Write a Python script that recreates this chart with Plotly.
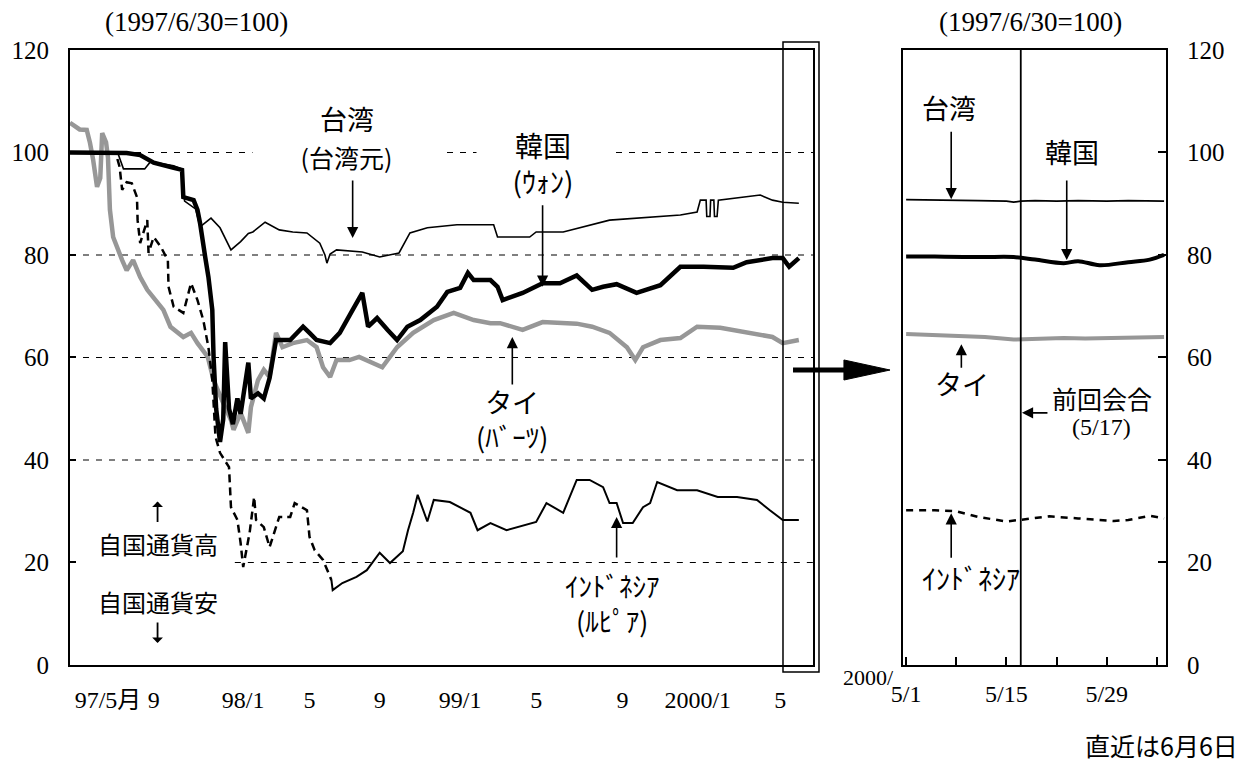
import plotly.graph_objects as go

# ---------------- data (left panel, 1997/6/30 = 100) ----------------
KR_DATES = ["1997-05-01","1997-07-17","1997-07-28","1997-08-18","1997-09-08","1997-10-09","1997-10-22","1997-10-24",
            "1997-11-09","1997-11-15","1997-11-19","1997-11-27","1997-12-02","1997-12-08","1997-12-10","1997-12-14",
            "1997-12-20","1997-12-25","1997-12-28","1998-01-03","1998-01-09","1998-01-16","1998-01-21","1998-02-02",
            "1998-02-06","1998-02-17","1998-02-26","1998-03-07","1998-03-17","1998-04-08","1998-04-28","1998-05-08",
            "1998-05-19","1998-06-09","1998-06-24","1998-07-14","1998-07-29","1998-08-07","1998-08-21","1998-09-06",
            "1998-09-21","1998-10-07","1998-10-27","1998-11-22","1998-12-08","1998-12-28","1999-01-09","1999-01-18",
            "1999-02-13","1999-02-24","1999-03-04","1999-04-04","1999-05-05","1999-06-01","1999-06-27","1999-07-21",
            "1999-08-07","1999-08-28","1999-09-28","1999-11-04","1999-12-05","2000-01-10","2000-02-25","2000-03-17",
            "2000-04-26","2000-05-12","2000-05-22","2000-06-06"]
KR_VALUES = [100,100,99.9,99.5,98,97,96.6,91.3,90.7,88.8,86.2,79.6,75.7,69.3,60,50,43.5,48,63,
             50,47,52,49,59,52,53,52,56,63.4,63.4,66,64.8,63.4,62.8,64.8,69.3,72.6,66,67.7,65.4,63.4,66,67.3,69.9,72.8,73.6,
             76.5,75.1,75.1,73.8,71.2,72.6,74.5,74.5,76,73.2,73.8,74.3,72.6,74.1,77.7,
             77.7,77.5,78.6,79.4,79.4,77.7,79.4]

TW_DATES = ["1997-05-01","1997-07-14","1997-07-23","1997-08-25","1997-09-03","1997-10-09","1997-10-21","1997-10-26",
            "1997-11-12","1997-11-19","1997-12-06","1997-12-20","1998-01-06","1998-01-21","1998-02-02","1998-02-09",
            "1998-02-28","1998-03-22","1998-04-12","1998-05-04","1998-05-24","1998-06-01","1998-06-04","1998-06-09",
            "1998-06-19","1998-07-29","1998-08-25","1998-09-24","1998-10-11","1998-11-07","1998-12-23","1999-02-18",
            "1999-02-24","1999-04-15","1999-04-25","1999-06-06","1999-08-17","1999-12-05","1999-12-31","2000-01-05",
            "2000-01-14","2000-01-15","2000-01-20","2000-01-21","2000-01-26","2000-01-27","2000-01-31","2000-02-02",
            "2000-04-07","2000-04-26","2000-05-12","2000-06-06"]
TW_VALUES = [100,100,96.8,96.8,98.2,97.4,96.8,90.5,89,85.5,87.2,85.3,
             81,82.6,84.2,84.5,86.4,84.9,84.5,84.3,82.3,80,78.4,80.2,81,80.6,79.6,80.4,84.3,85.3,85.9,
             85.9,83.5,83.5,84.5,84.5,86.8,87.8,88.4,
             90.7,90.7,87.5,87.5,90.7,90.7,87.5,87.5,90.7,91.7,90.7,90.3,90.1]

TH_DATES = ["1997-05-01","1997-05-16","1997-05-27","1997-06-01","1997-06-06","1997-06-12","1997-06-17","1997-06-20",
            "1997-06-26","1997-06-29","1997-07-02","1997-07-07","1997-07-21","1997-07-28","1997-08-07","1997-08-18",
            "1997-08-29","1997-09-14","1997-09-23","1997-10-04","1997-10-24","1997-11-05","1997-11-15","1997-12-01",
            "1997-12-10","1997-12-25","1998-01-06","1998-01-10","1998-01-21","1998-02-02","1998-02-06","1998-02-17",
            "1998-02-26","1998-03-07","1998-03-17","1998-03-27","1998-04-12","1998-05-04","1998-05-19","1998-05-29",
            "1998-06-09","1998-06-19","1998-07-09","1998-07-24","1998-08-14","1998-08-29","1998-09-21","1998-10-16",
            "1998-11-17","1998-12-18","1999-01-18","1999-02-13","1999-02-28","1999-04-04","1999-05-05","1999-06-27",
            "1999-07-21","1999-08-17","1999-09-13","1999-09-26","1999-10-08","1999-11-04","1999-12-05","1999-12-31",
            "2000-02-05","2000-03-17","2000-04-26","2000-05-12","2000-06-06"]
TH_VALUES = [105.8,104.5,104.4,101.9,98.5,93.3,95,103.8,102,99,88.8,83.5,79,77,79,75.7,73.2,70.6,69.3,66,64,64.8,62.8,60.1,55.6,51.1,
             47.8,45.9,49.2,45.3,50.3,55.6,57.6,56.2,64.8,62,62.8,63.4,62,58.1,56.2,59.5,59.5,60.1,58.9,58.1,62,64.8,67.3,68.7,
             67.3,66.7,66.7,65.4,66.9,66.6,66,64.8,62,59.5,62,63.4,63.8,66,
             65.8,65,64,62.8,63.4]

ID_DATES = ["1997-05-01","1997-07-10","1997-07-13","1997-07-17","1997-07-21","1997-07-28","1997-08-05","1997-08-13",
            "1997-08-14","1997-08-18","1997-08-29","1997-08-31","1997-09-08","1997-09-19","1997-09-30","1997-10-01",
            "1997-10-09","1997-10-24","1997-11-05","1997-11-15","1997-11-24","1997-12-02","1997-12-08","1997-12-13",
            "1997-12-20","1998-01-03","1998-01-06","1998-01-16","1998-01-21","1998-01-25","1998-02-04","1998-02-11",
            "1998-02-14","1998-02-26","1998-03-07","1998-03-22","1998-04-08","1998-04-15","1998-05-04","1998-05-08",
            "1998-05-16","1998-05-29","1998-06-11","1998-06-13","1998-06-28","1998-07-20","1998-08-05","1998-08-25",
            "1998-09-10","1998-09-30","1998-10-08","1998-10-16","1998-10-23","1998-11-07","1998-11-17","1998-12-12",
            "1999-01-13","1999-01-24","1999-02-13","1999-03-10","1999-04-25","1999-05-11","1999-06-06","1999-06-27",
            "1999-07-17","1999-08-07","1999-08-17","1999-08-28","1999-09-07","1999-09-22","1999-10-08","1999-10-19",
            "1999-10-30","1999-11-30","1999-12-31","2000-02-01","2000-03-02","2000-04-02","2000-04-22","2000-05-12",
            "2000-06-06"]
ID_VALUES = [100,100,99,97.2,92.7,94.2,94,91.3,86.8,82.3,86.8,80.4,83.5,81.6,79,73.8,69.9,68.7,74.5,71.2,67.3,62,55.6,44.5,41.4,
             38.6,30.8,28.3,23.8,19.1,25.8,32.8,28.3,26.9,23,28.9,28.9,31.6,30.2,25,22.4,20.5,16.6,14.6,16,17.2,18.5,21.9,19.9,
             22.2,26.3,29.7,33.2,28,32.2,31.8,
             29.7,26.3,27.7,26.3,27.9,31.6,29.7,36.1,36.1,34.7,31.6,31.6,27.7,27.7,30.8,31.6,35.7,34.1,34.1,
             32.8,32.8,32.2,30.2,28.3,28.3]
ID_SOLID_FROM = "1998-06-11"

TICK_DATES = ["1997-06-29","1997-09-08","1998-01-25","1998-05-08","1998-08-25","1998-12-28",
              "1999-04-25","1999-09-06","2000-01-01","2000-05-08"]
TICK_LABELS = ["97/5月","9","98/1","5","9","99/1","5","9","2000/1","5"]
GRID_LEVELS = [20, 40, 60, 80, 100]
Y_TICKS = [0, 20, 40, 60, 80, 100, 120]

# ---------------- data (right panel, 2000/5/1 - 6/6) ----------------
R_TW_DATES = ["2000-05-01","2000-05-04","2000-05-08","2000-05-11","2000-05-15","2000-05-16","2000-05-17","2000-05-19",
              "2000-05-22","2000-05-25","2000-05-29","2000-06-01","2000-06-06"]
R_TW_VALUES = [90.8,90.7,90.7,90.6,90.5,90.3,90.5,90.6,90.5,90.6,90.5,90.6,90.5]
R_KR_DATES = ["2000-05-01","2000-05-05","2000-05-09","2000-05-12","2000-05-16","2000-05-19","2000-05-23","2000-05-25",
              "2000-05-28","2000-06-01","2000-06-04","2000-06-06"]
R_KR_VALUES = [79.7,79.7,79.6,79.6,79.6,79.1,78.4,78.8,78.0,78.6,79.1,80.0]
R_TH_DATES = ["2000-05-01","2000-05-05","2000-05-09","2000-05-12","2000-05-16","2000-05-19","2000-05-23","2000-05-26",
              "2000-05-30","2000-06-02","2000-06-06"]
R_TH_VALUES = [64.6,64.4,64.3,64.0,63.5,63.7,63.8,63.7,63.8,63.9,64.0]
R_ID_DATES = ["2000-05-01","2000-05-05","2000-05-08","2000-05-11","2000-05-15","2000-05-17","2000-05-21","2000-05-25",
              "2000-05-30","2000-06-01","2000-06-04","2000-06-06"]
R_ID_VALUES = [30.2,30.2,30.0,28.9,28.0,28.3,29.0,28.6,28.1,28.3,29.1,28.6]
R_TICK_DATES = ["2000-05-01","2000-05-08","2000-05-15","2000-05-22","2000-05-29","2000-06-05"]
R_TICK_LABELS = ["5/1","","5/15","","5/29",""]
MEETING_DATE = "2000-05-17"

# ---------------- styling ----------------
SERIF = "Liberation Serif, Noto Sans CJK JP"
GOTHIC = "Noto Sans CJK JP"
BLACK = "#000000"
GRAY = "#979797"

fig = go.Figure()

split = ID_DATES.index(ID_SOLID_FROM)

# left panel traces
fig.add_trace(go.Scatter(x=TH_DATES, y=TH_VALUES, mode="lines", line=dict(color=GRAY, width=4.5),
                         xaxis="x", yaxis="y"))
fig.add_trace(go.Scatter(x=ID_DATES[:split + 1], y=ID_VALUES[:split + 1], mode="lines",
                         line=dict(color=BLACK, width=2.5, dash="8px,5px"), xaxis="x", yaxis="y"))
fig.add_trace(go.Scatter(x=ID_DATES[split:], y=ID_VALUES[split:], mode="lines",
                         line=dict(color=BLACK, width=2), xaxis="x", yaxis="y"))
fig.add_trace(go.Scatter(x=TW_DATES, y=TW_VALUES, mode="lines", line=dict(color=BLACK, width=1.6),
                         xaxis="x", yaxis="y"))
fig.add_trace(go.Scatter(x=KR_DATES, y=KR_VALUES, mode="lines", line=dict(color=BLACK, width=4.5),
                         xaxis="x", yaxis="y"))

# right panel traces
fig.add_trace(go.Scatter(x=R_TH_DATES, y=R_TH_VALUES, mode="lines", line=dict(color=GRAY, width=4),
                         xaxis="x2", yaxis="y2"))
fig.add_trace(go.Scatter(x=R_ID_DATES, y=R_ID_VALUES, mode="lines",
                         line=dict(color=BLACK, width=2.5, dash="7px,6px"), xaxis="x2", yaxis="y2"))
fig.add_trace(go.Scatter(x=R_TW_DATES, y=R_TW_VALUES, mode="lines", line=dict(color=BLACK, width=1.8),
                         xaxis="x2", yaxis="y2"))
fig.add_trace(go.Scatter(x=R_KR_DATES, y=R_KR_VALUES, mode="lines", line=dict(color=BLACK, width=4),
                         xaxis="x2", yaxis="y2", line_shape="spline"))

Y_DOMAIN = [0.1273, 0.9344]

fig.update_layout(
    width=1242, height=762,
    margin=dict(l=0, r=0, t=0, b=0, autoexpand=False),
    paper_bgcolor="white", plot_bgcolor="white",
    showlegend=False, hovermode=False,
    xaxis=dict(type="date", domain=[0.05636, 0.65459], range=["1997-05-01", "2000-06-28"], automargin=False,
               tickmode="array", tickvals=TICK_DATES, ticktext=TICK_LABELS, ticks="",
               showgrid=False, zeroline=False, showline=True, linecolor=BLACK, linewidth=2, mirror=True,
               tickfont=dict(family=SERIF, size=24, color=BLACK), ticklabelstandoff=12, anchor="y"),
    yaxis=dict(domain=Y_DOMAIN, range=[0, 120], tickmode="array", tickvals=Y_TICKS, automargin=False,
               ticks="inside", ticklen=6, tickwidth=1.5, tickcolor=BLACK,
               showgrid=False, zeroline=False, showline=True, linecolor=BLACK, linewidth=2, mirror=True,
               tickfont=dict(family=SERIF, size=25, color=BLACK), ticklabelstandoff=14, anchor="x"),
    xaxis2=dict(type="date", domain=[0.72705, 0.93881], range=["2000-04-30 13:30", "2000-06-06 06:30"],
                automargin=False,
                tickmode="array", tickvals=R_TICK_DATES, ticktext=R_TICK_LABELS,
                ticks="inside", ticklen=8, tickwidth=2, tickcolor=BLACK,
                showgrid=False, zeroline=False, showline=True, linecolor=BLACK, linewidth=2, mirror=True,
                tickfont=dict(family=SERIF, size=24, color=BLACK), ticklabelstandoff=6, anchor="y2"),
    yaxis2=dict(domain=Y_DOMAIN, range=[0, 120], tickmode="array", tickvals=Y_TICKS, side="right",
                automargin=False,
                ticks="inside", ticklen=8, tickwidth=2, tickcolor=BLACK,
                showgrid=False, zeroline=False, showline=True, linecolor=BLACK, linewidth=2, mirror=True,
                tickfont=dict(family=SERIF, size=25, color=BLACK), ticklabelstandoff=14, anchor="x2"),
)

# dashed horizontal grid lines in left panel
for lvl in GRID_LEVELS:
    start = "1998-01-12" if lvl == 20 else "1997-05-01"
    fig.add_shape(type="line", xref="x", yref="y", x0=start, x1="2000-06-28", y0=lvl, y1=lvl,
                  line=dict(color=BLACK, width=1.2, dash="6px,7px"), layer="below")

# 5/17 meeting line in right panel
fig.add_shape(type="line", xref="x2", yref="y2", x0=MEETING_DATE, x1=MEETING_DATE, y0=0, y1=120,
              line=dict(color=BLACK, width=1.8))

# highlight box around latest period in left panel
fig.add_shape(type="rect", xref="paper", yref="paper", x0=0.63043, x1=0.65942, y0=0.11811, y1=0.94488,
              line=dict(color=BLACK, width=1.5))

# big arrow between panels
fig.add_shape(type="line", xref="paper", yref="paper", x0=0.6385, x1=0.6820, y0=0.51444, y1=0.51444,
              line=dict(color=BLACK, width=5))
fig.add_shape(type="path", xref="paper", yref="paper",
              path="M 0.6795 0.5276 L 0.7166 0.5144 L 0.6795 0.5013 Z",
              fillcolor=BLACK, line=dict(color=BLACK, width=1))


def label(text, x, y, size=27, family=GOTHIC, xref="x", yref="y", bg=None, width=None, **kw):
    d = dict(text=text, x=x, y=y, xref=xref, yref=yref, showarrow=False,
             font=dict(family=family, size=size, color=BLACK), xanchor="center", yanchor="middle")
    if bg:
        d["bgcolor"] = bg
    if width:
        d["width"] = width
    d.update(kw)
    fig.add_annotation(**d)


def arrow(x, y, ax, ay, xref="x", yref="y", size=1.4, width=1.6, head=2):
    fig.add_annotation(text="", x=x, y=y, xref=xref, yref=yref, ax=ax, ay=ay, axref="pixel", ayref="pixel",
                       showarrow=True, arrowhead=head, arrowsize=size, arrowwidth=width, arrowcolor=BLACK,
                       standoff=0, font=dict(size=1), borderpad=0)


# left panel labels
label("台湾", "1998-07-05", 106.7, size=27)
label("(台湾元)", "1998-07-05", 99.1, size=25, bg="white", width=185)
arrow("1998-07-14", 83.3, 0, -58)
label("韓国<br>(ｳｫﾝ)", "1999-05-05", 98.0, size=28, bg="white", width=130)
arrow("1999-05-05", 73.8, 0, -82)
label("タイ<br>(ﾊﾞｰﾂ)", "1999-03-19", 48.0, size=27)
arrow("1999-03-19", 64.0, 0, 48)
label("ｲﾝﾄﾞﾈｼｱ<br>(ﾙﾋﾟｱ)", "1999-08-21", 12.1, size=27)
arrow("1999-08-28", 28.9, 0, 41)
label("自国通貨高", "1997-09-14", 23.8, size=24)
label("自国通貨安", "1997-09-14", 12.3, size=24)
arrow("1997-09-14", 31.9, 0, 21, size=1.0, width=1.8, head=1)
arrow("1997-09-14", 4.3, 0, -21, size=1.0, width=1.8, head=1)

# right panel labels
label("台湾", "2000-05-07", 108.7, xref="x2", yref="y2")
arrow("2000-05-07 07:00", 90.9, 0, -68, xref="x2", yref="y2")
label("韓国", "2000-05-24 02:00", 100.1, xref="x2", yref="y2")
arrow("2000-05-23 10:00", 79.0, 0, -80, xref="x2", yref="y2")
label("タイ", "2000-05-08 20:00", 55.0, xref="x2", yref="y2")
arrow("2000-05-08 17:00", 62.6, 0, 24, xref="x2", yref="y2")
label("ｲﾝﾄﾞﾈｼｱ", "2000-05-10 02:00", 17.0, size=28, xref="x2", yref="y2")
arrow("2000-05-07 07:00", 29.6, 0, 45, xref="x2", yref="y2")
label("前回会合", "2000-05-28 07:00", 52.1, size=25, xref="x2", yref="y2")
label("(5/17)", "2000-05-28 07:00", 46.4, size=24, family=SERIF, xref="x2", yref="y2")
arrow("2000-05-17 04:00", 49.2, 26, 0, xref="x2", yref="y2")

# titles / notes
label("(1997/6/30=100)", 0.1586, 0.9711, size=27, family=SERIF, xref="paper", yref="paper")
label("(1997/6/30=100)", 0.8301, 0.9711, size=27, family=SERIF, xref="paper", yref="paper")
label("2000/", 0.6989, 0.1115, size=22, family=SERIF, xref="paper", yref="paper")
label("直近は6月6日", 0.9984, 0.0223, size=25, xref="paper", yref="paper", xanchor="right")

fig.write_html("out.html", config={"displayModeBar": False},
               post_script="document.body.style.margin='0px';")
